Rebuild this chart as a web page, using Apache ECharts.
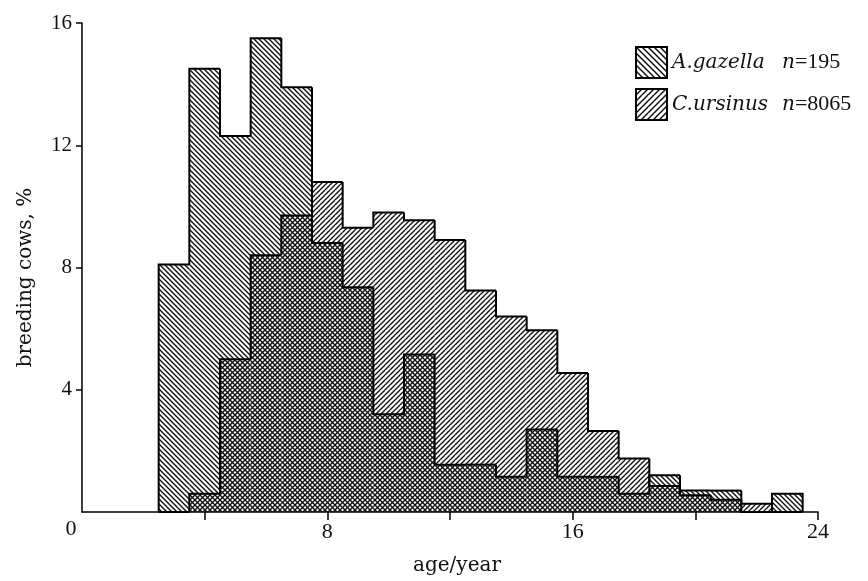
<!DOCTYPE html>
<html>
<head>
<meta charset="UTF-8">
<title>breeding cows by age</title>
<style>
    html, body { margin: 0; padding: 0; background: #fff; }
    #chart { width: 868px; height: 581px; }
</style>
<script src="https://cdn.jsdelivr.net/npm/echarts@6/dist/echarts.min.js"></script>
</head>
<body>
<div id="chart"></div>
<script>
// age classes (years), one bin per year centred on the age
var ages = [3, 4, 5, 6, 7, 8, 9, 10, 11, 12, 13, 14, 15, 16, 17, 18, 19, 20, 21, 22, 23];
// % of breeding cows
var gazella = [8.1, 14.5, 12.3, 15.5, 13.9, 8.8, 7.35, 3.2, 5.15, 1.55, 1.55, 1.15, 2.7, 1.15, 1.15, 0.6, 1.2, 0.7, 0.7, 0, 0.6];
var ursinus = [0, 0.6, 5.0, 8.4, 9.7, 10.8, 9.3, 9.8, 9.55, 8.9, 7.25, 6.4, 5.95, 4.55, 2.65, 1.75, 0.85, 0.55, 0.4, 0.27, 0];
var xLabels = [0, 8, 16, 24];
var yLabels = [4, 8, 12, 16];

// diagonal hatch tile, dir 1 = "/" , -1 = "\"
function hatch(dir, size, width) {
    var c = document.createElement('canvas');
    c.width = size; c.height = size;
    var ctx = c.getContext('2d');
    ctx.strokeStyle = '#111';
    ctx.lineWidth = width;
    ctx.beginPath();
    for (var k = -1; k <= 2; k++) {
        if (dir > 0) {
            ctx.moveTo(k * size - size, 2 * size);
            ctx.lineTo(k * size + size, 0);
        } else {
            ctx.moveTo(k * size - size, -size);
            ctx.lineTo(k * size + 2 * size, 2 * size);
        }
    }
    ctx.stroke();
    return { image: c, repeat: 'repeat' };
}

var backHatch = hatch(-1, 5, 1.4);
var fwdHatch = hatch(1, 5, 1.4);

// step histogram: hatched fill per bin, outline only along the top/steps
function stepRender(vals, fill) {
    return function (params, api) {
        var i = params.dataIndex;
        var x = api.value(0), v = api.value(1);
        var prev = i > 0 ? vals[i - 1] : 0;
        var kids = [];
        var a = api.coord([x - 0.5, 0]);
        var b = api.coord([x + 0.5, v]);
        if (v > 0) {
            kids.push({
                type: 'rect',
                shape: { x: a[0], y: b[1], width: b[0] - a[0], height: a[1] - b[1] },
                style: { fill: fill }
            });
        }
        var pts = [api.coord([x - 0.5, prev]), api.coord([x - 0.5, v]), api.coord([x + 0.5, v])];
        if (i === vals.length - 1) pts.push(api.coord([x + 0.5, 0]));
        kids.push({
            type: 'polyline',
            z2: 10,
            shape: { points: pts },
            style: { stroke: '#000', lineWidth: 2, fill: null }
        });
        return { type: 'group', children: kids };
    };
}

function pairs(vals) {
    return ages.map(function (a, i) { return [a, vals[i]]; });
}

var chart = echarts.init(document.getElementById('chart'));
var option = {
    backgroundColor: '#fff',
    animation: false,
    grid: { left: 82, right: 50, top: 23, bottom: 67 },
    legend: {
        orient: 'vertical',
        left: 630,
        top: 41,
        itemWidth: 31,
        itemHeight: 31,
        itemGap: 9,
        icon: 'rect',
        data: [
            { name: 'A.gazella', itemStyle: { color: hatch(-1, 6, 1.5), borderColor: '#000', borderWidth: 2 } },
            { name: 'C.ursinus', itemStyle: { color: hatch(1, 6, 1.5), borderColor: '#000', borderWidth: 2 } }
        ],
        formatter: function (name) {
            var n = name === 'A.gazella' ? '195' : '8065';
            return '{a|' + name + '}{i|n}{r|=' + n + '}';
        },
        textStyle: {
            rich: {
                a: { fontFamily: 'DejaVu Serif', fontStyle: 'italic', fontSize: 20, color: '#111', width: 110 },
                i: { fontFamily: 'DejaVu Serif', fontStyle: 'italic', fontSize: 20, color: '#111' },
                r: { fontFamily: 'Liberation Serif', fontSize: 22, color: '#111' }
            }
        }
    },
    xAxis: {
        type: 'value',
        min: 0,
        max: 24,
        interval: 4,
        name: 'age/year',
        nameLocation: 'middle',
        nameGap: 44,
        nameTextStyle: { fontFamily: 'DejaVu Serif', fontSize: 20, color: '#111', padding: [0, 0, 0, 14] },
        axisLine: { lineStyle: { color: '#000', width: 1.5 } },
        axisTick: { length: 8, customValues: [4, 8, 12, 16, 20, 24], lineStyle: { color: '#000', width: 1.5 } },
        axisLabel: {
            customValues: xLabels,
            margin: 9,
            fontFamily: 'Liberation Serif',
            fontSize: 22,
            color: '#111',
            formatter: function (v) { return v === 0 ? '{o|0}' : String(v); },
            rich: { o: { fontFamily: 'Liberation Serif', fontSize: 22, color: '#111', padding: [0, 22, 0, 0], lineHeight: 16 } }
        },
        splitLine: { show: false }
    },
    yAxis: {
        type: 'value',
        min: 0,
        max: 16,
        interval: 4,
        name: 'breeding cows, %',
        nameLocation: 'middle',
        nameGap: 46,
        nameTextStyle: { fontFamily: 'DejaVu Serif', fontSize: 20, color: '#111', padding: [0, 20, 0, 0] },
        axisLine: { lineStyle: { color: '#000', width: 1.5 } },
        axisTick: { length: 6, customValues: yLabels, lineStyle: { color: '#000', width: 1.5 } },
        axisLabel: { customValues: yLabels, margin: 10, fontFamily: 'Liberation Serif', fontSize: 21, color: '#111' },
        splitLine: { show: false }
    },
    series: [
        {
            name: 'A.gazella',
            type: 'custom',
            renderItem: stepRender(gazella, backHatch),
            itemStyle: { color: backHatch },
            encode: { x: 0, y: 1 },
            clip: false,
            data: pairs(gazella)
        },
        {
            name: 'C.ursinus',
            type: 'custom',
            renderItem: stepRender(ursinus, fwdHatch),
            itemStyle: { color: fwdHatch },
            encode: { x: 0, y: 1 },
            clip: false,
            data: pairs(ursinus)
        }
    ]
};
chart.setOption(option);
</script>
</body>
</html>
